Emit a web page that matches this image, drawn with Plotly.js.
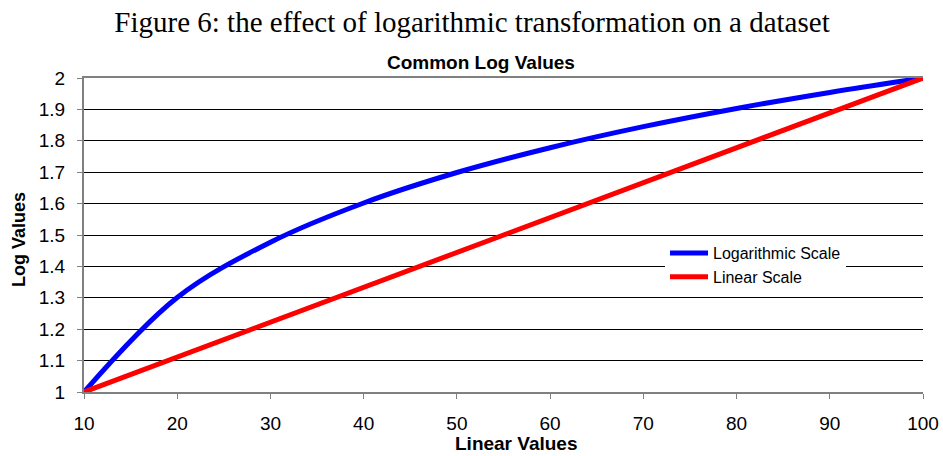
<!DOCTYPE html>
<html>
<head>
<meta charset="utf-8">
<script src="https://cdn.plot.ly/plotly-3.0.1.min.js"></script>
<style>
  html, body { margin: 0; padding: 0; background: #fff; }
  #chart { width: 943px; height: 456px; }
</style>
</head>
<body>
<div id="chart"></div>
<script>
// Data
const linearValuesX = [10, 20, 30, 40, 50, 60, 70, 80, 90, 100];
const logScaleValues = [1.0, 1.301, 1.477, 1.602, 1.699, 1.778, 1.845, 1.903, 1.954, 2.0];
const linearScaleValues = [1.0, 1.111, 1.222, 1.333, 1.444, 1.556, 1.667, 1.778, 1.889, 2.0];
const seriesNames = ['Logarithmic Scale', 'Linear Scale'];
const xTickVals = [10, 20, 30, 40, 50, 60, 70, 80, 90, 100];
const yTickVals = [1, 1.1, 1.2, 1.3, 1.4, 1.5, 1.6, 1.7, 1.8, 1.9, 2];
const yTickText = ['1', '1.1', '1.2', '1.3', '1.4', '1.5', '1.6', '1.7', '1.8', '1.9', '2'];

const W = 943, H = 456;
const L = 84, R = 20, T = 78, B = 64;
const pw = W - L - R, ph = H - T - B;
const px = (x) => (x - L) / pw;
const py = (y) => (H - B - y) / ph;

const sans = 'Liberation Sans, Arial, sans-serif';
const serif = 'Liberation Serif, Times New Roman, serif';

const traces = [
  {
    x: linearValuesX, y: logScaleValues, name: seriesNames[0],
    type: 'scatter', mode: 'lines',
    line: { color: '#0000FF', width: 5, shape: 'spline', smoothing: 1 },
    cliponaxis: false
  },
  {
    x: linearValuesX, y: linearScaleValues, name: seriesNames[1],
    type: 'scatter', mode: 'lines',
    line: { color: '#FF0000', width: 5 },
    cliponaxis: false
  }
];

const layout = {
  width: W, height: H,
  margin: { l: L, r: R, t: T, b: B },
  paper_bgcolor: '#fff', plot_bgcolor: '#fff',
  showlegend: true,
  title: {
    text: 'Figure 6: the effect of logarithmic transformation on a dataset',
    font: { family: serif, size: 29, color: '#000' },
    x: 472 / W, xanchor: 'center', xref: 'container',
    y: 1 - 22 / H, yanchor: 'middle', yref: 'container'
  },
  xaxis: {
    range: [10, 100], tickvals: xTickVals, ticktext: xTickVals.map(String),
    showgrid: false, zeroline: false,
    showline: true, linecolor: '#808080', linewidth: 2, mirror: true,
    ticks: 'outside', ticklen: 5, tickwidth: 1, tickcolor: '#808080',
    tickfont: { family: sans, size: 19, color: '#000' },
    ticklabelstandoff: 8
  },
  yaxis: {
    range: [1, 2], tickvals: yTickVals, ticktext: yTickText,
    showgrid: true, gridcolor: '#000', gridwidth: 1, zeroline: false,
    showline: true, linecolor: '#808080', linewidth: 2,
    ticks: 'outside', ticklen: 5, tickwidth: 1, tickcolor: '#808080',
    tickfont: { family: sans, size: 19, color: '#000' },
    ticklabelstandoff: 8
  },
  legend: {
    x: px(665), y: py(236), xanchor: 'left', yanchor: 'top',
    bgcolor: '#fff', borderwidth: 0,
    font: { family: sans, size: 16, color: '#000' },
    itemwidth: 38,
    tracegroupgap: 0
  },
  annotations: [
    {
      text: '<b>Common Log Values</b>', showarrow: false,
      xref: 'paper', yref: 'paper', x: px(481), y: py(63),
      xanchor: 'center', yanchor: 'middle',
      font: { family: sans, size: 19, color: '#000' }
    },
    {
      text: '<b>Linear Values</b>', showarrow: false,
      xref: 'paper', yref: 'paper', x: px(516), y: py(443),
      xanchor: 'center', yanchor: 'middle',
      font: { family: sans, size: 19, color: '#000' }
    },
    {
      text: '<b>Log Values</b>', showarrow: false, textangle: -90,
      xref: 'paper', yref: 'paper', x: px(18.5), y: py(239.5),
      xanchor: 'center', yanchor: 'middle',
      font: { family: sans, size: 18, color: '#000' }
    }
  ]
};

Plotly.newPlot('chart', traces, layout, { displayModeBar: false, staticPlot: true });
</script>
</body>
</html>
